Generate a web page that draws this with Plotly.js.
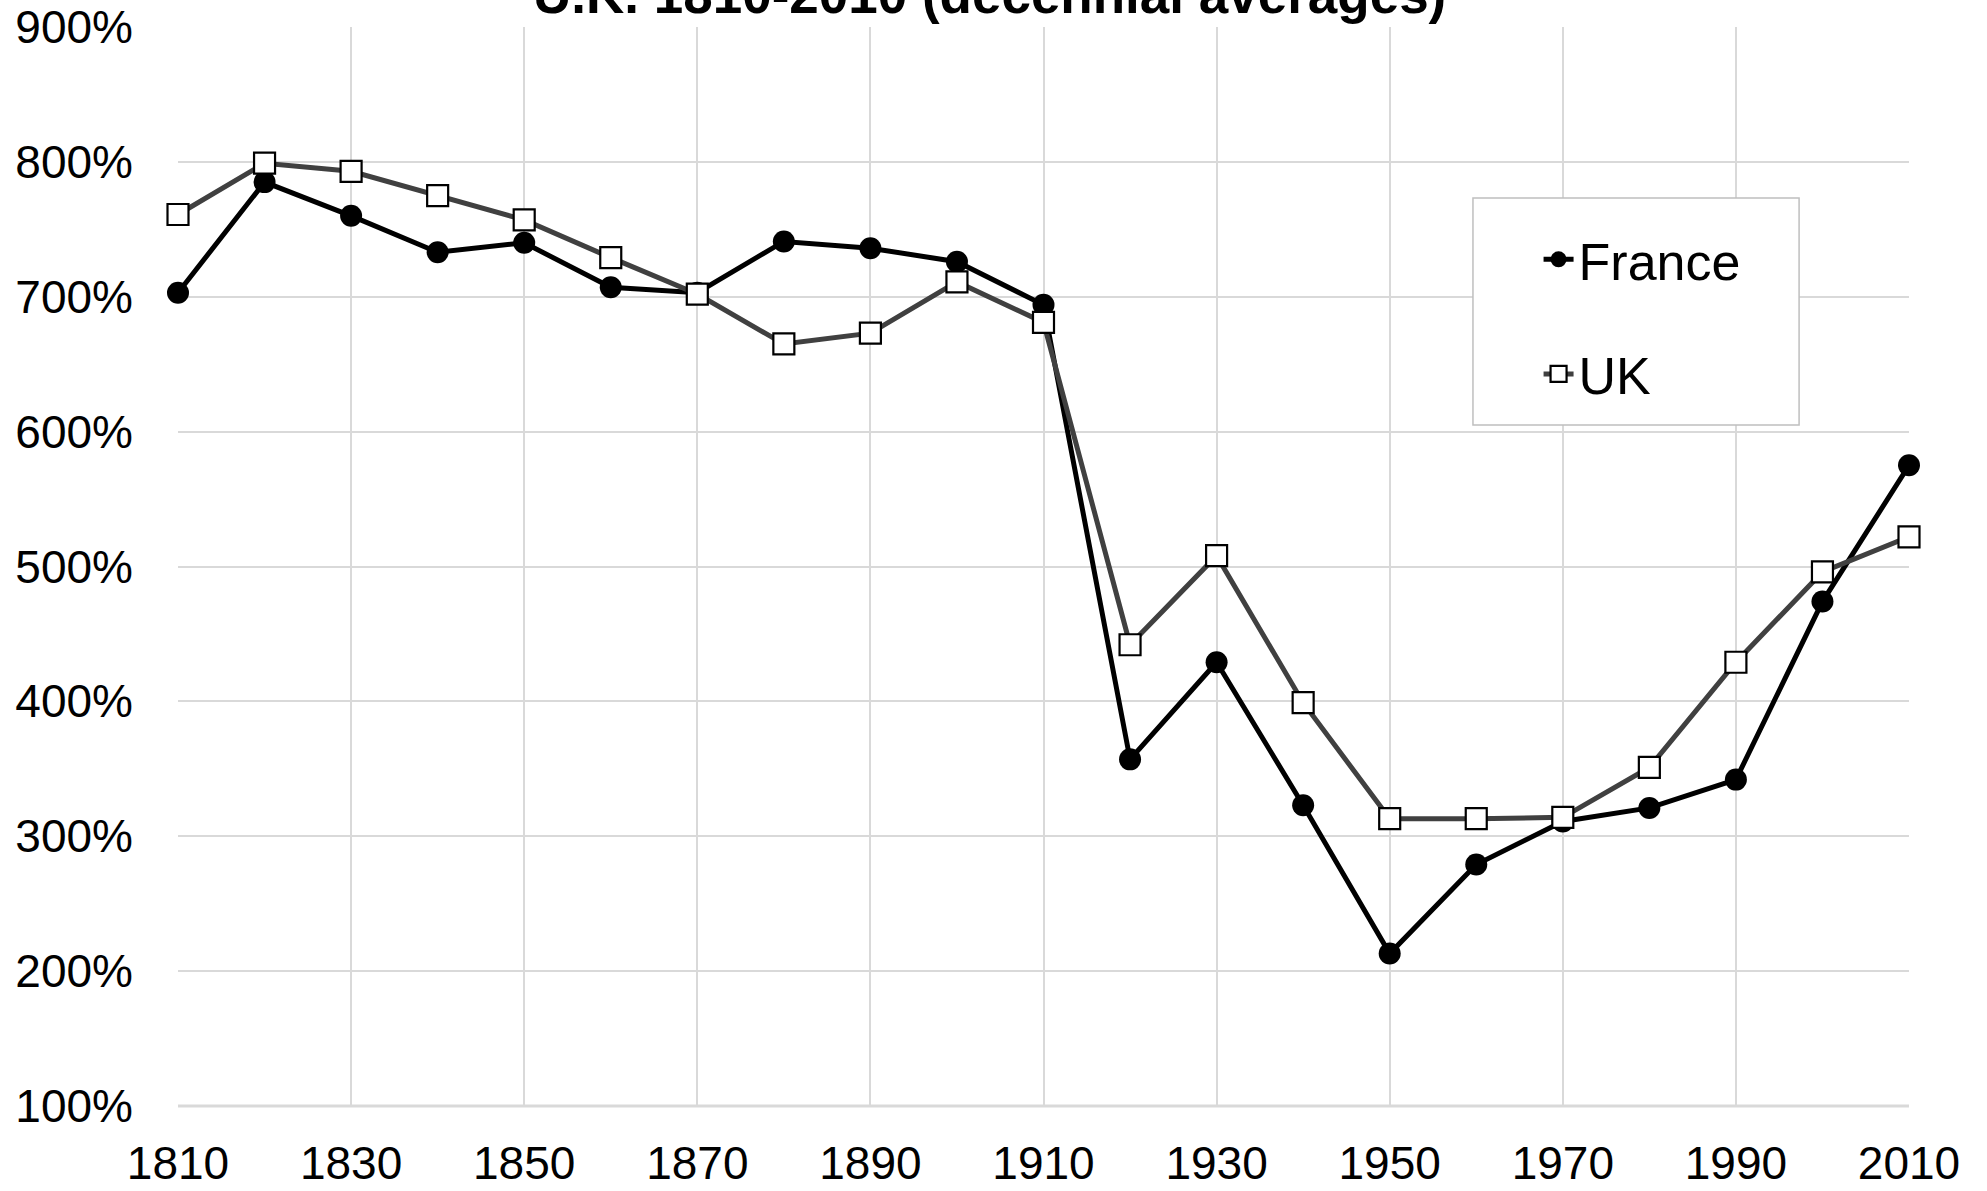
<!DOCTYPE html>
<html>
<head>
<meta charset="utf-8">
<script src="https://cdn.plot.ly/plotly-3.0.1.min.js"></script>
<style>
  html, body { margin: 0; padding: 0; background: #ffffff; }
  #chart { width: 1987px; height: 1191px; }
</style>
</head>
<body>
<div id="chart"></div>
<script>
// Decade (x axis categories)
const years = [1810, 1820, 1830, 1840, 1850, 1860, 1870, 1880, 1890, 1900, 1910,
               1920, 1930, 1940, 1950, 1960, 1970, 1980, 1990, 2000, 2010];
// Capital/income ratio, % of national income (decennial averages)
const france = [703, 785, 760, 733, 740, 707, 703, 741, 736, 726, 694,
                357, 429, 323, 213, 279, 311, 321, 342, 474, 575];
const uk     = [761, 799, 793, 775, 757, 729, 702, 665, 673, 711, 681,
                442, 508, 399, 313, 313, 314, 351, 429, 496, 522];
const seriesNames = ["France", "UK"];
const titleText = "U.K. 1810-2010 (decennial averages)";

const FONT = "Liberation Sans, Arial, Helvetica, sans-serif";

const traces = [
  {
    x: years, y: france, name: seriesNames[0], type: "scatter", mode: "lines+markers",
    line: { color: "#000000", width: 5 },
    marker: { symbol: "circle", size: 22, color: "#000000", line: { width: 0 } },
    cliponaxis: false, legendgroup: "a"
  },
  {
    x: years, y: uk, name: seriesNames[1], type: "scatter", mode: "lines+markers",
    line: { color: "#404040", width: 5 },
    marker: { symbol: "square", size: 21, color: "#ffffff", line: { color: "#000000", width: 2.2 } },
    cliponaxis: false, legendgroup: "b"
  }
];

const layout = {
  width: 1987, height: 1191,
  paper_bgcolor: "#ffffff", plot_bgcolor: "#ffffff",
  margin: { l: 178, r: 78, t: 27, b: 85 },
  font: { family: FONT, color: "#000000", size: 46 },
  showlegend: true,
  legend: {
    x: 0.786, y: 0.822, xanchor: "left", yanchor: "top",
    bgcolor: "rgba(0,0,0,0)", borderwidth: 0,
    font: { family: FONT, size: 52, color: "#000000" },
    tracegroupgap: 44
  },
  xaxis: {
    range: [1810, 2010], tick0: 1810, dtick: 20, tickmode: "linear",
    showgrid: true, gridcolor: "#d9d9d9", gridwidth: 2,
    zeroline: false, showline: false, ticks: "",
    ticklabelstandoff: 26,
    tickfont: { family: FONT, size: 46, color: "#000000" }
  },
  yaxis: {
    range: [100, 900], tick0: 100, dtick: 100, tickmode: "linear",
    ticksuffix: "%",
    showgrid: true, gridcolor: "#d9d9d9", gridwidth: 2,
    zeroline: false, showline: false, ticks: "",
    ticklabelstandoff: 44,
    tickfont: { family: FONT, size: 46, color: "#000000" }
  },
  shapes: [
    { type: "line", xref: "paper", yref: "paper", x0: 0, x1: 1, y0: 0, y1: 0,
      line: { color: "#d9d9d9", width: 3 }, layer: "below" },
    { type: "rect", xref: "paper", yref: "paper", x0: 0.7481, x1: 0.9365, y0: 0.6311, y1: 0.8415,
      line: { color: "#bfbfbf", width: 1.5 }, fillcolor: "#ffffff", layer: "above" }
  ],
  annotations: [
    { text: "<b>" + titleText + "</b>", xref: "paper", yref: "paper",
      x: 0.469, y: 1.0301, xanchor: "center", yanchor: "middle", showarrow: false,
      font: { family: FONT, size: 53, color: "#000000" } }
  ]
};

Plotly.newPlot("chart", traces, layout, { displayModeBar: false, staticPlot: true });
</script>
</body>
</html>
